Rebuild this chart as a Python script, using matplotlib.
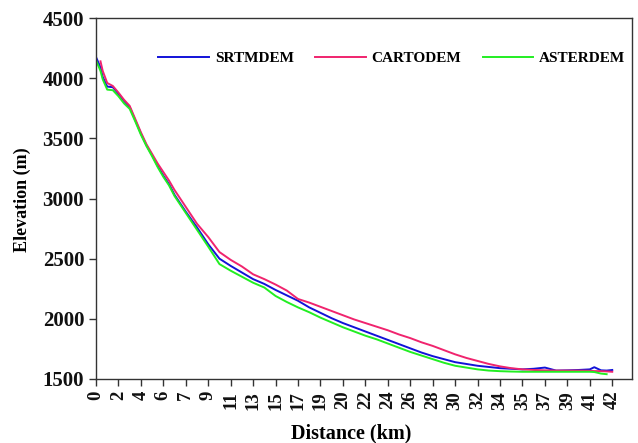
import matplotlib
matplotlib.use("Agg")
import matplotlib.pyplot as plt
import numpy as np

plt.rcParams['font.family'] = ['Liberation Serif', 'DejaVu Serif']
plt.rcParams['font.weight'] = 'bold'

# category axis labels (distance, km) - evenly spaced ticks as in the source chart
tick_labels = ['0', '2', '4', '6', '7', '9', '11', '13', '15', '17', '19', '20',
               '22', '24', '26', '28', '30', '32', '34', '35', '37', '39', '41', '42']

# positions along the category axis (tick units) where the profiles were read
pos = [0.0, 0.2, 0.3, 0.5, 0.75, 1.0, 1.25, 1.5, 1.75, 2.0, 2.25, 2.5, 2.75,
       3.0, 3.25, 3.5, 3.75, 4.0, 4.5, 5.0, 5.5, 6.0, 6.5, 7.0, 7.5, 8.0,
       8.5, 9.0, 9.5, 10.0, 10.5, 11.0, 11.5, 12.0, 12.5, 13.0, 13.5, 14.0,
       14.5, 15.0, 15.5, 16.0, 16.5, 17.0, 17.5, 18.0, 18.5, 19.0, 19.5,
       20.0, 20.5, 21.0, 21.5, 22.0, 22.2, 22.5, 22.75, 23.0]

srtm = [4175, 4090, 4010, 3930, 3925, 3870, 3810, 3760, 3650, 3540, 3440, 3360, 3270,
        3190, 3120, 3030, 2960, 2890, 2760, 2620, 2500, 2440, 2385, 2330, 2290, 2240,
        2195, 2150, 2095, 2050, 2005, 1965, 1930, 1895, 1860, 1825, 1790, 1755,
        1720, 1690, 1665, 1640, 1625, 1610, 1600, 1590, 1585, 1580, 1585,
        1595, 1570, 1572, 1575, 1580, 1598, 1572, 1570, 1575]

carto = [np.nan, 4140, 4060, 3960, 3935, 3880, 3820, 3770, 3660, 3550, 3450, 3370, 3290,
         3220, 3150, 3070, 3000, 2930, 2790, 2680, 2555, 2490, 2435, 2370, 2330, 2285,
         2235, 2165, 2135, 2100, 2065, 2030, 1995, 1965, 1935, 1905, 1870, 1840,
         1805, 1775, 1740, 1705, 1675, 1650, 1625, 1605, 1590, 1580, 1575,
         1572, 1570, 1570, 1570, 1568, 1566, 1565, 1563, 1560]

aster = [4150, 4060, 3990, 3905, 3900, 3850, 3790, 3745, 3640, 3530, 3435, 3350, 3260,
         3180, 3110, 3020, 2950, 2880, 2740, 2600, 2455, 2400, 2350, 2300, 2260, 2190,
         2140, 2095, 2055, 2010, 1970, 1930, 1895, 1860, 1830, 1795, 1760, 1725,
         1695, 1665, 1635, 1610, 1595, 1580, 1570, 1565, 1562, 1560, 1560,
         1560, 1560, 1560, 1560, 1560, 1558, 1545, 1540, np.nan]

fig = plt.figure(figsize=(6.38, 4.43), dpi=100)
ax = fig.add_axes([96/638, 1-379/443, 536/638, 361/443])

ax.plot(pos, srtm, color='#1212D8', lw=1.4, label='SRTMDEM')
ax.plot(pos, carto, color='#F0246E', lw=1.4, label='CARTODEM')
ax.plot(pos, aster, color='#22EE22', lw=1.4, label='ASTERDEM')

ax.set_xlim(0, 23.88)
ax.set_ylim(1500, 4500)
ax.set_xticks(range(len(tick_labels)))
ax.set_xticklabels(tick_labels, rotation=90, fontsize=13.5, fontweight='bold')
ax.set_yticks(range(1500, 4501, 500))
ax.tick_params(axis='y', labelsize=15)
ax.tick_params(direction='out', length=5, width=1, colors='#333333', labelcolor='#111111')
for s in ax.spines.values():
    s.set_color('#333333')
    s.set_linewidth(1)

xl = ax.set_xlabel('Distance (km)', fontsize=14.5, fontweight='bold')
xl.set_va('center')
ax.xaxis.set_label_coords(0.476, -0.15)
yl = ax.set_ylabel('Elevation (m)', fontsize=13, fontweight='bold')
yl.set_va('center')
ax.yaxis.set_label_coords(-0.138, 0.496)

ax.legend(loc='center', bbox_to_anchor=(0.552, 0.889), ncol=3, frameon=False,
          fontsize=11, handlelength=3.3, handletextpad=0.4, columnspacing=1.4)

plt.savefig('out.png', dpi=100)
